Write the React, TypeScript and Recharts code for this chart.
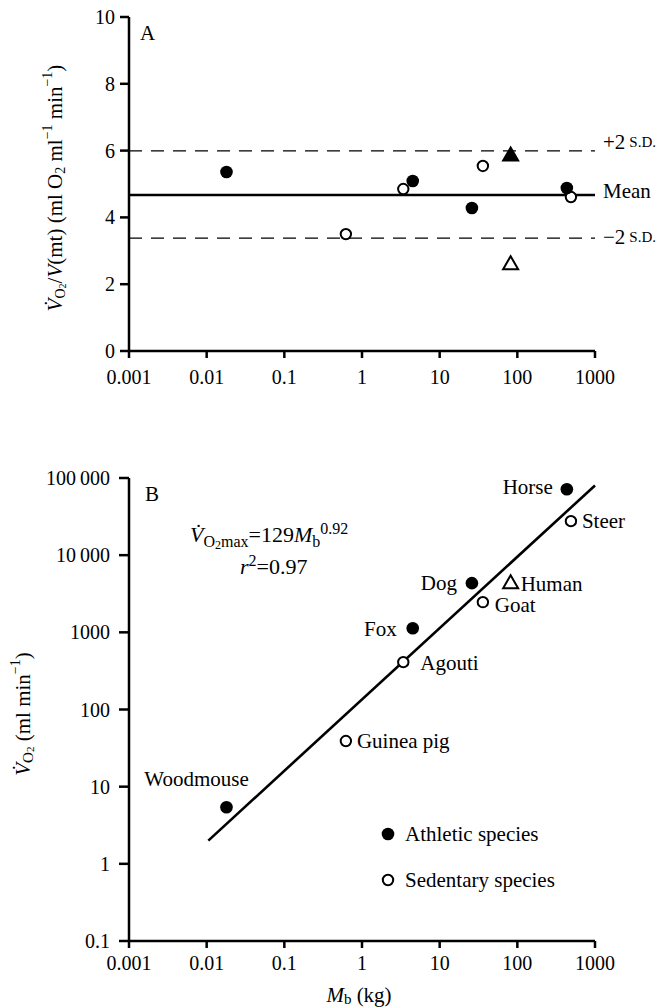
import { ReferenceLine, Scatter, ScatterChart, XAxis, YAxis } from "recharts"

const FONT = "'Liberation Serif', Tinos, 'Times New Roman', serif"

// species measured in both panels
const species = ["Woodmouse", "Guinea pig", "Agouti", "Fox", "Dog", "Goat", "Human", "Horse", "Steer"]
const speciesGroup = ["athletic", "sedentary", "sedentary", "athletic", "athletic", "sedentary", "human", "athletic", "sedentary"]
const bodyMassKg = [0.018, 0.62, 3.4, 4.5, 26, 36, 82, 434, 490]

// panel A: VO2 per mitochondrial volume (human = untrained, open triangle)
const vo2PerMito = [5.36, 3.5, 4.85, 5.09, 4.28, 5.54, 2.63, 4.88, 4.61]
const humanTrainedVo2PerMito = [5.88]
const sdValues = [5.99, 4.67, 3.38]
const sdNames = ["+2", "Mean", "\u22122"]

// panel B: VO2max (ml/min)
const vo2max = [5.4, 39, 411, 1130, 4340, 2460, 4460, 71600, 27600]
const fitMassKg = [0.0105, 1000]
const fitVo2 = [2.0, 80000]

// ticks
const massTicks = [0.001, 0.01, 0.1, 1, 10, 100, 1000]
const massTickLabels = ["0.001", "0.01", "0.1", "1", "10", "100", "1000"]
const ratioTicks = [0, 2, 4, 6, 8, 10]
const vo2Ticks = [0.1, 1, 10, 100, 1000, 10000, 100000]
const vo2TickLabels = ["0.1", "1", "10", "100", "1000", "10\u2009000", "100\u2009000"]

const legendItems = [
  { label: "Athletic species", filled: true },
  { label: "Sedentary species", filled: false },
]

// where each species name sits relative to its marker in panel B
const labelPlacement: Record<string, { dx: number; dy: number; anchor: string }> = {
  Woodmouse: { dx: -30, dy: -29, anchor: "middle" },
  "Guinea pig": { dx: 11, dy: 0, anchor: "start" },
  Agouti: { dx: 17, dy: 1, anchor: "start" },
  Fox: { dx: -16, dy: 0, anchor: "end" },
  Dog: { dx: -15, dy: 0, anchor: "end" },
  Goat: { dx: 12, dy: 2, anchor: "start" },
  Human: { dx: 10, dy: 1, anchor: "start" },
  Horse: { dx: -14, dy: -3, anchor: "end" },
  Steer: { dx: 11, dy: 0, anchor: "start" },
}
const sdLabelDy = [-9, -4, -1]

const pointsA = species.map((name, i) => ({ name, group: speciesGroup[i], x: bodyMassKg[i], y: vo2PerMito[i] }))
const pointsB = species.map((name, i) => ({ name, group: speciesGroup[i], x: bodyMassKg[i], y: vo2max[i] }))
const humanTrainedA = humanTrainedVo2PerMito.map((y) => ({ name: "Human", x: bodyMassKg[species.indexOf("Human")], y }))
const fitLine = fitMassKg.map((x, i) => ({ x, y: fitVo2[i] }))

const filledDot = (p: any) => <circle cx={p.cx} cy={p.cy} r={6.3} fill="#000" />
const openDot = (p: any) => <circle cx={p.cx} cy={p.cy} r={5.2} fill="#fff" stroke="#000" strokeWidth={2} />
const triangle = (filled: boolean) => (p: any) => (
  <polygon
    points={`${p.cx},${p.cy - 7} ${p.cx + 7.5},${p.cy + 6} ${p.cx - 7.5},${p.cy + 6}`}
    fill={filled ? "#000" : "#fff"}
    stroke="#000"
    strokeWidth={2}
  />
)

const withLabel = (marker: (p: any) => any) => (p: any) => {
  const place = labelPlacement[p.payload.name]
  return (
    <g>
      {marker(p)}
      <text
        x={p.cx + place.dx}
        y={p.cy + place.dy}
        dy="0.35em"
        textAnchor={place.anchor}
        fontFamily={FONT}
        fontSize={21}
        fill="#000"
      >
        {p.payload.name}
      </text>
    </g>
  )
}

const MassTick = (props: any) => {
  const { x, y, payload, dy } = props
  const i = massTicks.indexOf(payload.value)
  return (
    <text x={x} y={y} dy={dy} textAnchor="middle" fontFamily={FONT} fontSize={20} fill="#000">
      {i >= 0 ? massTickLabels[i] : String(payload.value)}
    </text>
  )
}

const ValueTick = (props: any) => {
  const { x, y, payload, labels, values } = props
  const i = values ? values.indexOf(payload.value) : -1
  return (
    <text x={x} y={y} dy={7} textAnchor="end" fontFamily={FONT} fontSize={20} fill="#000">
      {i >= 0 ? labels[i] : String(payload.value)}
    </text>
  )
}

const SdLabel = (props: any) => {
  const { viewBox, index } = props
  const x = viewBox.x + viewBox.width + 8
  const y = viewBox.y + sdLabelDy[index]
  return (
    <text x={x} y={y} dominantBaseline="central" fontFamily={FONT} fontSize={21} fill="#000">
      {sdNames[index]}
      {index !== 1 && (
        <tspan fontSize={15} dx={4}>
          S.D.
        </tspan>
      )}
    </text>
  )
}

const YLabelA = () => (
  <text
    x={55}
    y={188}
    transform="rotate(-90 55 188)"
    textAnchor="middle"
    dominantBaseline="central"
    fontFamily={FONT}
    fontSize={21}
    fill="#000"
  >
    <tspan fontStyle="italic">{"V\u0307"}</tspan>
    <tspan fontSize={14} dy={5}>O</tspan>
    <tspan fontSize={10} dy={2}>2</tspan>
    <tspan dy={-7}>/</tspan>
    <tspan fontStyle="italic">V</tspan>
    <tspan>(mt) (ml O</tspan>
    <tspan fontSize={14} dy={5}>2</tspan>
    <tspan dy={-5}> ml</tspan>
    <tspan fontSize={14} dy={-8}>{"\u22121"}</tspan>
    <tspan dy={8}> min</tspan>
    <tspan fontSize={14} dy={-8}>{"\u22121"}</tspan>
    <tspan dy={8}>)</tspan>
  </text>
)

const YLabelB = () => (
  <text
    x={23}
    y={254}
    transform="rotate(-90 23 254)"
    textAnchor="middle"
    dominantBaseline="central"
    fontFamily={FONT}
    fontSize={21}
    fill="#000"
  >
    <tspan fontStyle="italic">{"V\u0307"}</tspan>
    <tspan fontSize={15} dy={5}>O</tspan>
    <tspan fontSize={11} dy={2}>2</tspan>
    <tspan dy={-7}> (ml min</tspan>
    <tspan fontSize={14} dy={-8}>{"\u22121"}</tspan>
    <tspan dy={8}>)</tspan>
  </text>
)

const XLabelB = () => (
  <text x={359} y={535} textAnchor="middle" dominantBaseline="central" fontFamily={FONT} fontSize={21} fill="#000">
    <tspan fontStyle="italic">M</tspan>
    <tspan fontSize={15} dy={4}>b</tspan>
    <tspan dy={-4}> (kg)</tspan>
  </text>
)

const axisStyle = { stroke: "#000", strokeWidth: 2.5 }
const overlay = (left: number, top: number, extra: any = {}) => ({
  position: "absolute" as const,
  left,
  top,
  fontFamily: FONT,
  fontSize: 21,
  lineHeight: "26px",
  whiteSpace: "nowrap" as const,
  color: "#000",
  ...extra,
})

export default function App() {
  return (
    <div style={{ position: "absolute", left: 0, top: 0, width: 663, height: 1008, background: "#fff" }}>
      <div style={{ position: "absolute", left: 0, top: 0 }}>
        <ScatterChart width={663} height={460} margin={{ top: 17, right: 68, bottom: 69, left: 69 }}>
          <XAxis
            type="number"
            dataKey="x"
            scale="log"
            domain={[0.001, 1000]}
            ticks={massTicks}
            interval={0}
            height={40}
            axisLine={axisStyle}
            tickLine={axisStyle}
            tickSize={7}
            tickMargin={4}
            tick={<MassTick dy={22} />}
          />
          <YAxis
            type="number"
            dataKey="y"
            domain={[0, 10]}
            ticks={ratioTicks}
            interval={0}
            width={60}
            axisLine={axisStyle}
            tickLine={axisStyle}
            tickSize={9}
            tickMargin={5}
            tick={<ValueTick labels={ratioTicks.map(String)} values={ratioTicks} />}
            label={<YLabelA />}
          />
          {sdValues.map((v, i) => (
            <ReferenceLine
              key={i}
              y={v}
              stroke="#000"
              strokeWidth={i === 1 ? 2.5 : 1.3}
              strokeDasharray={i === 1 ? undefined : "13 9"}
              label={<SdLabel index={i} />}
            />
          ))}
          <Scatter data={pointsA.filter((d) => d.group === "sedentary")} shape={openDot} isAnimationActive={false} />
          <Scatter data={pointsA.filter((d) => d.group === "athletic")} shape={filledDot} isAnimationActive={false} />
          <Scatter data={pointsA.filter((d) => d.group === "human")} shape={triangle(false)} isAnimationActive={false} />
          <Scatter data={humanTrainedA} shape={triangle(true)} isAnimationActive={false} />
        </ScatterChart>
        <div style={overlay(140, 20)}>A</div>
      </div>

      <div style={{ position: "absolute", left: 0, top: 460 }}>
        <ScatterChart width={663} height={548} margin={{ top: 18, right: 68, bottom: 27, left: 69 }}>
          <XAxis
            type="number"
            dataKey="x"
            scale="log"
            domain={[0.001, 1000]}
            ticks={massTicks}
            interval={0}
            height={40}
            axisLine={axisStyle}
            tickLine={axisStyle}
            tickSize={7}
            tickMargin={4}
            tick={<MassTick dy={18} />}
            label={<XLabelB />}
          />
          <YAxis
            type="number"
            dataKey="y"
            scale="log"
            domain={[0.1, 100000]}
            ticks={vo2Ticks}
            interval={0}
            width={60}
            axisLine={axisStyle}
            tickLine={axisStyle}
            tickSize={10}
            tickMargin={9}
            tick={<ValueTick labels={vo2TickLabels} values={vo2Ticks} />}
            label={<YLabelB />}
          />
          <Scatter
            data={fitLine}
            line={{ stroke: "#000", strokeWidth: 2.6 }}
            shape={() => <g />}
            isAnimationActive={false}
          />
          <Scatter data={pointsB.filter((d) => d.group === "sedentary")} shape={withLabel(openDot)} isAnimationActive={false} />
          <Scatter data={pointsB.filter((d) => d.group === "athletic")} shape={withLabel(filledDot)} isAnimationActive={false} />
          <Scatter data={pointsB.filter((d) => d.group === "human")} shape={withLabel(triangle(false))} isAnimationActive={false} />
        </ScatterChart>
        <div style={overlay(378, 351, { lineHeight: "46px" })}>
          {legendItems.map((it) => (
            <div key={it.label} style={{ display: "flex", alignItems: "center", height: 46 }}>
              <svg width={20} height={20}>
                {it.filled ? (
                  <circle cx={10} cy={10} r={6.3} fill="#000" />
                ) : (
                  <circle cx={10} cy={10} r={5.2} fill="#fff" stroke="#000" strokeWidth={2} />
                )}
              </svg>
              <span style={{ marginLeft: 7 }}>{it.label}</span>
            </div>
          ))}
        </div>
        <div style={overlay(145, 21)}>B</div>
        <div style={overlay(190, 62, { fontSize: 22 })}>
          <i>{"V\u0307"}</i>
          <span style={{ fontSize: 16, position: "relative", top: 5 }}>
            O<span style={{ fontSize: 12, position: "relative", top: 2 }}>2</span>max
          </span>
          =129<i>M</i>
          <span style={{ fontSize: 16, position: "relative", top: 5 }}>b</span>
          <span style={{ fontSize: 16, position: "relative", top: -8 }}>0.92</span>
        </div>
        <div style={overlay(240, 94, { fontSize: 22 })}>
          <i>r</i>
          <span style={{ fontSize: 16, position: "relative", top: -8 }}>2</span>=0.97
        </div>
      </div>
    </div>
  )
}
